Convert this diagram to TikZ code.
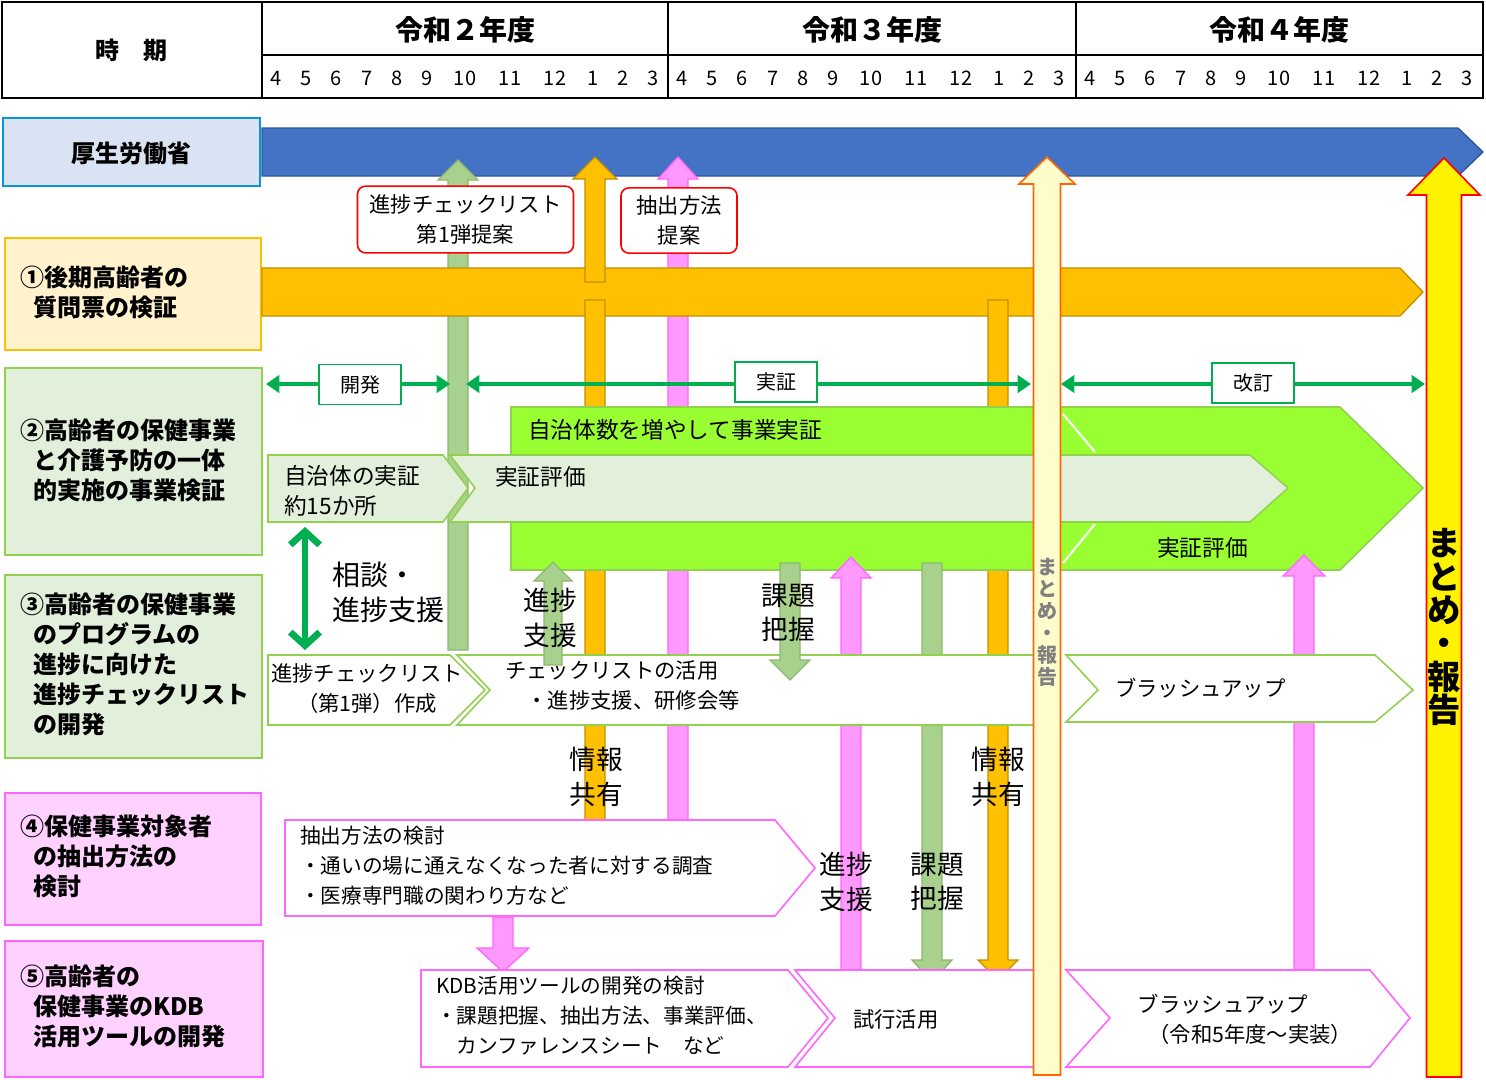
\documentclass[tikz,border=0pt]{standalone}
\usepackage{fontspec}
\usetikzlibrary{arrows.meta}
\setmainfont{Noto Sans CJK JP}
\begin{document}
\begin{tikzpicture}[x=0.75pt,y=-0.75pt,
  t/.style={inner sep=0pt,font=\fontsize{#1}{#1}\selectfont},
  lab/.style={inner sep=0pt,anchor=north west,align=left,font=\fontsize{18}{22.5}\selectfont\bfseries},
  tl/.style={inner sep=0pt,anchor=west,font=\fontsize{#1}{#1}\selectfont},
  al/.style={inner sep=0pt,align=center,font=\fontsize{20}{26}\selectfont},
  gbox/.style={draw=gline,line width=1.2pt,fill=white,inner sep=0pt,minimum width=61.5pt,minimum height=30pt,font=\fontsize{15}{15}\selectfont},
  rbox/.style={draw=red,line width=1.2pt,fill=white,rounded corners=6pt,align=center,inner sep=0pt,font=\fontsize{16}{22}\selectfont},
  oarr/.style={fill=orgf,draw=orgd,line width=1pt},
  parr/.style={fill=pnkf,draw=pnkd,line width=1pt},
  larr/.style={fill=lgf,draw=lgd,line width=1pt},
  gdbl/.style={draw=gline,line width=3.5pt,-{Triangle[length=10pt,width=13pt]}},
  gchev/.style={draw=gch,line width=1.2pt},
  pchev/.style={draw=pnkd,line width=1.2pt,fill=white},
]
\definecolor{gline}{HTML}{00B050}
\definecolor{orgf}{HTML}{FFC000}
\definecolor{orgd}{HTML}{BF9000}
\definecolor{pnkf}{HTML}{FF99FF}
\definecolor{pnkd}{HTML}{FF66FF}
\definecolor{lgf}{HTML}{A9D18E}
\definecolor{lgd}{HTML}{8DB870}
\definecolor{gch}{HTML}{92D050}
\definecolor{lgbox}{HTML}{E2EFDA}
\definecolor{brt}{HTML}{99FF33}
\definecolor{bluef}{HTML}{4472C4}
\definecolor{blued}{HTML}{2F5597}
\newcommand\VArr[7]{\draw[#1] ({#2-#5},#3)--({#2-#5},{#4+#7})--({#2-#6},{#4+#7})--(#2,#4)--({#2+#6},{#4+#7})--({#2+#5},{#4+#7})--({#2+#5},#3)--cycle;}
\useasboundingbox (0,0) rectangle (1486,1079);
\fill[white] (0,0) rectangle (1486,1079);
% header
\draw[line width=1.2pt] (2,2) rectangle (1483,98);
\draw[line width=1.2pt] (262,2)--(262,98) (668,2)--(668,98) (1076,2)--(1076,98) (262,55)--(1483,55);
\node[t=18,font=\fontsize{18}{18}\selectfont\bfseries] (jiki) at (131,50) {時　期};
\node[font=\fontsize{21}{21}\selectfont\bfseries,inner sep=0pt] (y2) at (465,30) {令和２年度};
\node[font=\fontsize{21}{21}\selectfont\bfseries,inner sep=0pt] (y3) at (872,30) {令和３年度};
\node[font=\fontsize{21}{21}\selectfont\bfseries,inner sep=0pt] (y4) at (1279,30) {令和４年度};
\foreach \s in {262,668,1076}{
  \foreach \o/\m in {14/4,44/5,74/6,105/7,135/8,165/9,203/10,248/11,293/12,331/1,361/2,391/3}{
    \node[t=15] (m\s-\m) at ({\s+\o},78) {\m};
  }}
% left labels
\draw[draw=cyan!80!blue,fill=bluef!20,line width=1.2pt] (3,118) rectangle (260,186);
\node[font=\fontsize{18}{18}\selectfont\bfseries,inner sep=0pt] (mhlw) at (131,153) {厚生労働省};
\draw[draw=orgf,fill=orgf!20,line width=1.2pt] (5,238) rectangle (261,350);
\node[lab] (l1) at (20,266) {①後期高齢者の\\\hspace{0.55em}質問票の検証};
\draw[draw=gch,fill=lgbox,line width=1.2pt] (5,368) rectangle (262,555);
\node[lab] (l2) at (20,419) {②高齢者の保健事業\\\hspace{0.55em}と介護予防の一体\\\hspace{0.55em}的実施の事業検証};
\draw[draw=gch,fill=lgbox,line width=1.2pt] (5,575) rectangle (262,758);
\node[lab] (l3) at (20,593) {③高齢者の保健事業\\\hspace{0.55em}のプログラムの\\\hspace{0.55em}進捗に向けた\\\hspace{0.55em}進捗チェックリスト\\\hspace{0.55em}の開発};
\draw[draw=pnkd,fill=pnkf!45,line width=1.2pt] (5,793) rectangle (261,925);
\node[lab] (l4) at (20,815) {④保健事業対象者\\\hspace{0.55em}の抽出方法の\\\hspace{0.55em}検討};
\draw[draw=pnkd,fill=pnkf!45,line width=1.2pt] (5,941) rectangle (263,1077);
\node[lab] (l5) at (20,965) {⑤高齢者の\\\hspace{0.55em}保健事業のKDB\\\hspace{0.55em}活用ツールの開発};
% blue bar
\draw[fill=bluef,draw=blued,line width=1pt] (262,128)--(1458,128)--(1483,152)--(1458,176)--(262,176)--cycle;
% vertical arrows behind
\VArr{larr}{458}{650}{160}{10}{20}{20}
\VArr{parr}{678}{843}{157}{10}{20}{22}
% orange bar
\draw[fill=orgf,draw=orgd,line width=1pt] (262,268)--(1400,268)--(1423,292)--(1400,316)--(262,316)--cycle;
\VArr{oarr}{595}{282}{157}{10}{22}{22}
\VArr{oarr}{595}{300}{848}{10}{20}{-26}
\VArr{oarr}{998}{300}{980}{10}{20}{-20}
% red boxes
\node[rbox,minimum width=162pt,minimum height=50pt] (rb1) at (465.5,219.5) {進捗チェックリスト\\第1弾提案};
\node[rbox,minimum width=87pt,minimum height=49pt] (rb2) at (679,220.5) {抽出方法\\提案};
% green double arrows
\draw[gdbl] (319,384)--(266,384); \draw[gdbl] (401,384)--(450,384);
\draw[gdbl] (735,384)--(466,384); \draw[gdbl] (817,384)--(1031,384);
\draw[gdbl] (1212,384)--(1061,384); \draw[gdbl] (1294,384)--(1425,384);
\node[gbox] (kaihatsu) at (360,384.5) {開発};
\node[gbox] (jissho) at (776,382) {実証};
\node[gbox] (kaitei) at (1253,383) {改訂};
% big green chevron
\draw[gchev,fill=brt] (511,407)--(1340,407)--(1423,488)--(1340,570)--(511,570)--cycle;
\draw[white,line width=1.5pt] (1063,414)--(1095,452) (1095,524)--(1063,563);
\node[tl=17] (zouyasu) at (528,430) {自治体数を増やして事業実証};
\node[tl=17] (jhyoka2) at (1157,548) {実証評価};
% light chevrons row 2
\draw[gchev,fill=lgbox] (450,455)--(1250,455)--(1288,488)--(1250,522)--(450,522)--(475,488)--cycle;
\draw[gchev,fill=lgbox] (268,455)--(443,455)--(468,488)--(443,522)--(268,522)--cycle;
\node[tl=17] (jhyoka1) at (495,477) {実証評価};
\node[inner sep=0pt,anchor=north west,align=left,font=\fontsize{17}{22.5}\selectfont] (jichitai) at (284,465) {自治体の実証\\約15か所};
% later vertical arrows
\VArr{parr}{851}{975}{557}{10}{20}{21}
\VArr{larr}{932}{563}{982}{10}{20}{-22}
\VArr{parr}{1304}{975}{555}{10}{21}{21}
% row 3 chevrons
\draw[gchev,fill=white] (457,655)--(1045,655)--(1045,725)--(457,725)--(490,690)--cycle;
\draw[gchev,fill=white] (268,655)--(450,655)--(485,690)--(450,725)--(268,725)--cycle;
\draw[gchev,fill=white] (1066,655)--(1375,655)--(1413,690)--(1375,722)--(1066,722)--(1098,690)--cycle;
\node[inner sep=0pt,align=center,font=\fontsize{16}{22.5}\selectfont] (chk1) at (367,689) {進捗チェックリスト\\（第1弾）作成};
\node[inner sep=0pt,anchor=north west,align=left,font=\fontsize{16}{22.5}\selectfont] (chk2) at (505,660) {チェックリストの活用\\\hspace{1em}・進捗支援、研修会等};
\node[tl=16] (brush1) at (1115,688) {ブラッシュアップ};
% small arrows over row 3
\VArr{larr}{553}{665}{562}{9}{19}{19}
\VArr{larr}{790}{563}{680}{10}{20}{-20}
% 相談 double arrow
\draw[gline,line width=5pt,{Straight Barb[length=10pt,width=22pt]}-{Straight Barb[length=10pt,width=22pt]}] (305,527)--(305,650);
\node[inner sep=0pt,anchor=north west,align=left,font=\fontsize{21}{26}\selectfont] (sodan) at (332,562) {相談・\\進捗支援};
% arrow labels
\node[al] (sh1) at (550,618) {進捗\\支援};
\node[al] (kh1) at (788,613) {課題\\把握};
\node[al] (js1) at (596,777) {情報\\共有};
\node[al] (js2) at (998,777) {情報\\共有};
\node[al] (sh2) at (846,882) {進捗\\支援};
\node[al] (kh2) at (937,882) {課題\\把握};
% row 4
\draw[pchev] (285,820)--(775,820)--(815,868)--(775,916)--(285,916)--cycle;
\node[inner sep=0pt,anchor=north west,align=left,font=\fontsize{15.5}{22.5}\selectfont] (chushutsu) at (300,826) {抽出方法の検討\\・通いの場に通えなくなった者に対する調査\\・医療専門職の関わり方など};
\VArr{parr}{503}{917}{972}{10}{26}{-24}
% row 5
\draw[pchev] (795,970)--(1045,970)--(1045,1067)--(795,1067)--(835,1018)--cycle;
\draw[pchev] (421,970)--(788,970)--(828,1018)--(788,1067)--(421,1067)--cycle;
\draw[pchev] (1066,970)--(1370,970)--(1410,1018)--(1370,1067)--(1066,1067)--(1110,1018)--cycle;
\node[inner sep=0pt,anchor=north west,align=left,font=\fontsize{15.5}{22.5}\selectfont] (kdb) at (436,976) {KDB活用ツールの開発の検討\\・課題把握、抽出方法、事業評価、\\\hspace{1em}カンファレンスシート　など};
\node[tl=16] (shiko) at (853,1019) {試行活用};
\node[inner sep=0pt,align=left,font=\fontsize{16}{22.5}\selectfont] (brush2) at (1245,1019) {ブラッシュアップ\\\hspace{0.5em}（令和5年度～実装）};
% cream and yellow arrows
\VArr{fill=yellow!20,draw=orange!80!red,line width=1.2pt}{1047}{1075}{157}{13.5}{28}{27}
\node[inner sep=0pt,align=center,text=gray,font=\fontsize{15}{16.5}\selectfont\bfseries] (matome1) at (1047,622) {ま\\と\\め\\・\\報\\告};
\VArr{fill=yellow,draw=red,line width=1.2pt}{1444}{1077}{158}{17.5}{36}{37}
\node[inner sep=0pt,align=center,font=\fontsize{25}{25}\selectfont\bfseries] (matome2) at (1444,627) {ま\\と\\め\\・\\報\\告};
\end{tikzpicture}
\end{document}
